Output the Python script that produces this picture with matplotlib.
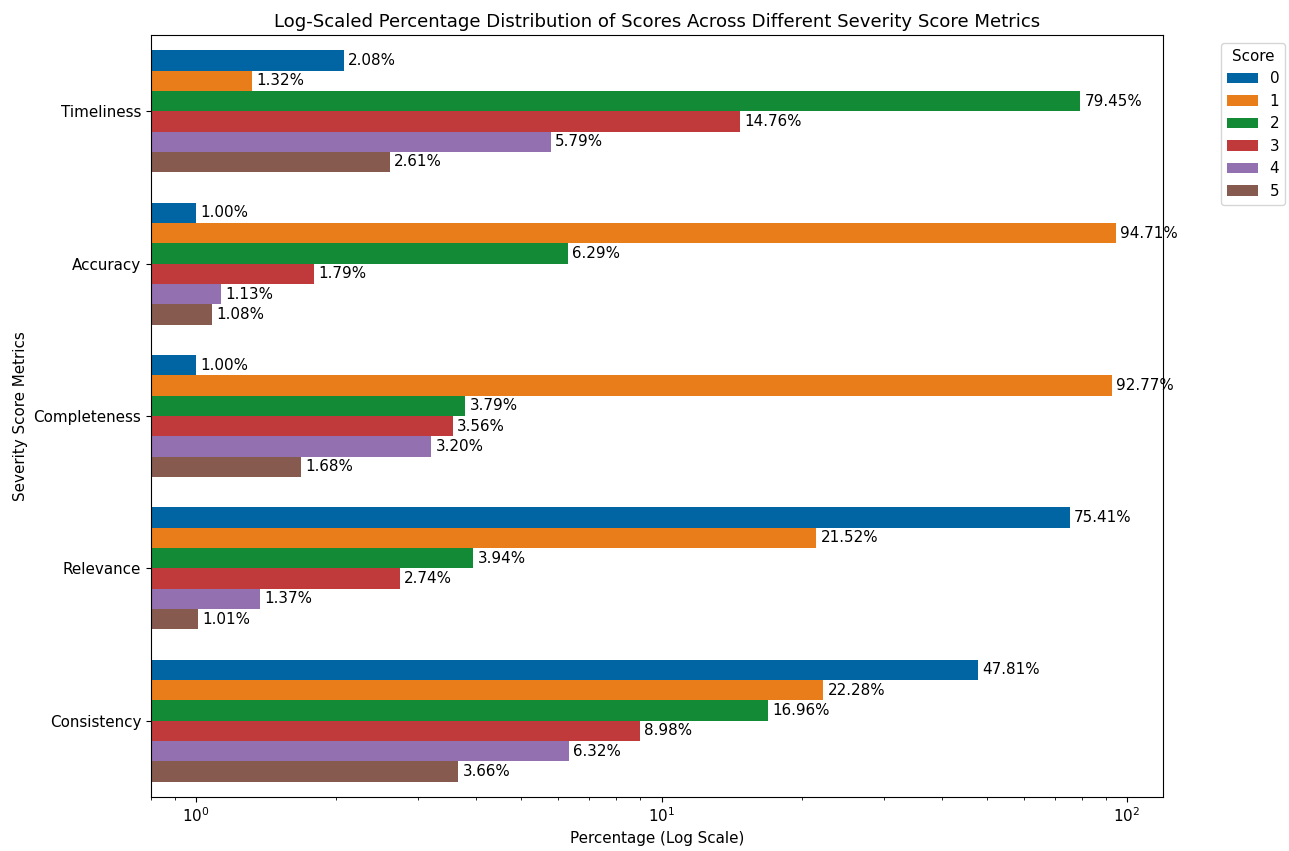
import numpy as np
import matplotlib
matplotlib.use("Agg")
import matplotlib.pyplot as plt

# Data
metrics = ["Timeliness", "Accuracy", "Completeness", "Relevance", "Consistency"]
scores = ["0", "1", "2", "3", "4", "5"]
score_0 = [2.08, 1.00, 1.00, 75.41, 47.81]
score_1 = [1.32, 94.71, 92.77, 21.52, 22.28]
score_2 = [79.45, 6.29, 3.79, 3.94, 16.96]
score_3 = [14.76, 1.79, 3.56, 2.74, 8.98]
score_4 = [5.79, 1.13, 3.20, 1.37, 6.32]
score_5 = [2.61, 1.08, 1.68, 1.01, 3.66]
series = [score_0, score_1, score_2, score_3, score_4, score_5]

colors = ["#0065a2", "#e87d19", "#138a36", "#c03a3c", "#9370b0", "#875a50"]

plt.rcParams["font.size"] = 10.9

fig = plt.figure(figsize=(12.89, 8.51), dpi=100)
ax = fig.add_axes([151 / 1289, 1 - 797 / 851, (1163 - 151) / 1289, (797 - 35) / 851])

n = len(scores)
group_w = 0.8
bar_h = group_w / n
y = np.arange(len(metrics))[::-1]  # Timeliness on top

for i, (vals, c) in enumerate(zip(series, colors)):
    # score 0 at the top of each group
    pos = y + group_w / 2 - bar_h / 2 - i * bar_h
    bars = ax.barh(pos, vals, height=bar_h, color=c, label=scores[i])
    for b, v in zip(bars, vals):
        ax.annotate(f"{v:.2f}%", (v, b.get_y() + b.get_height() / 2),
                    xytext=(3, 0), textcoords="offset points",
                    va="center", ha="left")

ax.set_xscale("log")
ax.set_xlim(0.8, 119.5)
ax.set_ylim(-0.5, 4.5)
ax.set_yticks(y)
ax.set_yticklabels(metrics)
ax.set_xlabel("Percentage (Log Scale)")
ax.set_ylabel("Severity Score Metrics")
ax.set_title("Log-Scaled Percentage Distribution of Scores Across Different Severity Score Metrics",
             fontsize=13.1)
ax.legend(title="Score", bbox_to_anchor=(1.05, 1), loc="upper left")

fig.savefig("out.png", dpi=100)
